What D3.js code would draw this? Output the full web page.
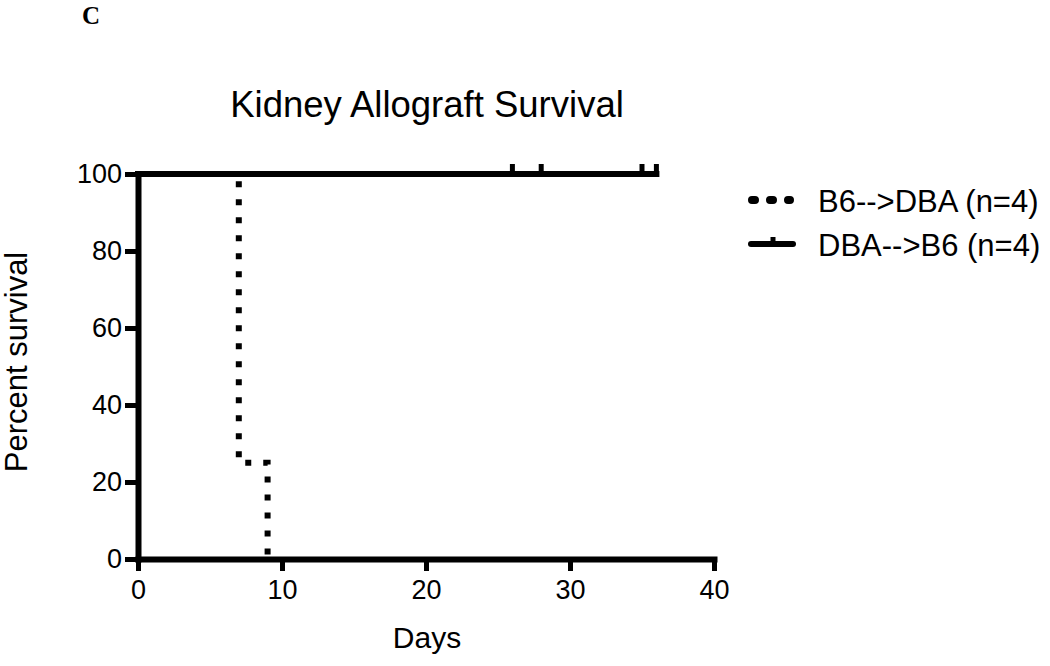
<!DOCTYPE html>
<html>
<head>
<meta charset="utf-8">
<script src="https://cdn.jsdelivr.net/npm/d3@7"></script>
<style>
    body { margin: 0; background: #fff; }
    svg text { font-family: Arial, "Liberation Sans", sans-serif; fill: #000; }
</style>
</head>
<body>
<div id="chart"></div>
<script>
// survival data (days), 1 = death, 0 = censored
const group_names = ["B6-->DBA (n=4)", "DBA-->B6 (n=4)"];
const b6_dba_days = [7, 7, 7, 9];
const b6_dba_events = [1, 1, 1, 1];
const dba_b6_days = [26, 28, 35, 36];
const dba_b6_events = [0, 0, 0, 0];

const x_ticks = [0, 10, 20, 30, 40];
const y_ticks = [0, 20, 40, 60, 80, 100];

// Kaplan-Meier steps from raw times
function km_steps(days, events) {
    const order = d3.range(days.length).sort((a, b) => days[a] - days[b]);
    let at_risk = days.length;
    let surv = 100;
    let steps = [[0, 100]];
    let censored = [];
    const unique_days = Array.from(new Set(order.map(i => days[i])));
    unique_days.forEach(function (t) {
        const idx = order.filter(i => days[i] === t);
        const deaths = idx.filter(i => events[i] === 1).length;
        if (deaths > 0) {
            surv = surv * (at_risk - deaths) / at_risk;
            steps.push([t, surv]);
        }
        if (idx.some(i => events[i] === 0)) {
            censored.push([t, surv]);
        }
        at_risk -= idx.length;
    });
    const last = d3.max(days);
    if (steps[steps.length - 1][0] < last) steps.push([last, surv]);
    return {steps: steps, censored: censored};
}

const width = 1050;
const height = 666;
const margin_left = 138;
const plot_right = 714;
const plot_top = 174;
const plot_bottom = 559;

const svg = d3.select("#chart").append("svg")
    .attr("width", width)
    .attr("height", height);

const xScale = d3.scaleLinear().domain([0, 40]).range([margin_left, plot_right]);
const yScale = d3.scaleLinear().domain([0, 100]).range([plot_bottom, plot_top]);

// panel letter
svg.append("text")
    .attr("x", 82).attr("y", 24)
    .style("font-family", "'Liberation Serif', 'Times New Roman', serif")
    .style("font-weight", "bold")
    .style("font-size", "25px")
    .text("C");

// title
svg.append("text")
    .attr("x", 427).attr("y", 117)
    .attr("text-anchor", "middle")
    .style("font-size", "36.5px")
    .text("Kidney Allograft Survival");

// axes
const xAxis = svg.append("g")
    .attr("transform", `translate(0,${plot_bottom})`)
    .call(d3.axisBottom(xScale).tickValues(x_ticks).tickSize(12).tickSizeOuter(0).tickPadding(9));

const yAxis = svg.append("g")
    .attr("transform", `translate(${margin_left},0)`)
    .call(d3.axisLeft(yScale).tickValues(y_ticks).tickSize(13).tickSizeOuter(0).tickPadding(3));

[xAxis, yAxis].forEach(function (g) {
    g.select(".domain").attr("stroke", "#000").attr("stroke-width", 6).attr("stroke-linecap", "square");
    g.selectAll(".tick line").attr("stroke", "#000").attr("stroke-width", 5);
    g.selectAll(".tick text").style("font-size", "27px").attr("fill", "#000");
});

// axis labels
svg.append("text")
    .attr("transform", "translate(27,362) rotate(-90)")
    .attr("text-anchor", "middle")
    .style("font-size", "31px")
    .text("Percent survival");

svg.append("text")
    .attr("x", 427).attr("y", 648)
    .attr("text-anchor", "middle")
    .style("font-size", "30px")
    .text("Days");

const line = d3.line()
    .x(d => xScale(d[0]))
    .y(d => yScale(d[1]))
    .curve(d3.curveStepAfter);

const km1 = km_steps(b6_dba_days, b6_dba_events);
const km2 = km_steps(dba_b6_days, dba_b6_events);

// dotted group
svg.append("path")
    .datum(km1.steps)
    .attr("d", line)
    .attr("fill", "none")
    .attr("stroke", "#000")
    .attr("stroke-width", 6)
    .attr("stroke-dasharray", "6,12");

// solid group
svg.append("path")
    .datum(km2.steps)
    .attr("d", line)
    .attr("fill", "none")
    .attr("stroke", "#000")
    .attr("stroke-width", 6)
    .attr("stroke-linecap", "square");

svg.append("g")
    .selectAll("line")
    .data(km2.censored)
    .join("line")
    .attr("x1", d => xScale(d[0]))
    .attr("x2", d => xScale(d[0]))
    .attr("y1", d => yScale(d[1]))
    .attr("y2", d => yScale(d[1]) - 10)
    .attr("stroke", "#000")
    .attr("stroke-width", 5);

// legend
const legend = svg.append("g");
const legend_y = [200, 244];
legend.append("line")
    .attr("x1", 752).attr("x2", 790)
    .attr("y1", legend_y[0]).attr("y2", legend_y[0])
    .attr("stroke", "#000").attr("stroke-width", 8)
    .attr("stroke-linecap", "round")
    .attr("stroke-dasharray", "3,15");
legend.append("line")
    .attr("x1", 751).attr("x2", 793)
    .attr("y1", legend_y[1]).attr("y2", legend_y[1])
    .attr("stroke", "#000").attr("stroke-width", 6)
    .attr("stroke-linecap", "round");
legend.append("line")
    .attr("x1", 773).attr("x2", 773)
    .attr("y1", legend_y[1]).attr("y2", legend_y[1] - 7)
    .attr("stroke", "#000").attr("stroke-width", 5);
legend.selectAll("text")
    .data(group_names)
    .join("text")
    .attr("x", 818)
    .attr("y", (d, i) => legend_y[i] + 12)
    .style("font-size", "31px")
    .text(d => d);
</script>
</body>
</html>
